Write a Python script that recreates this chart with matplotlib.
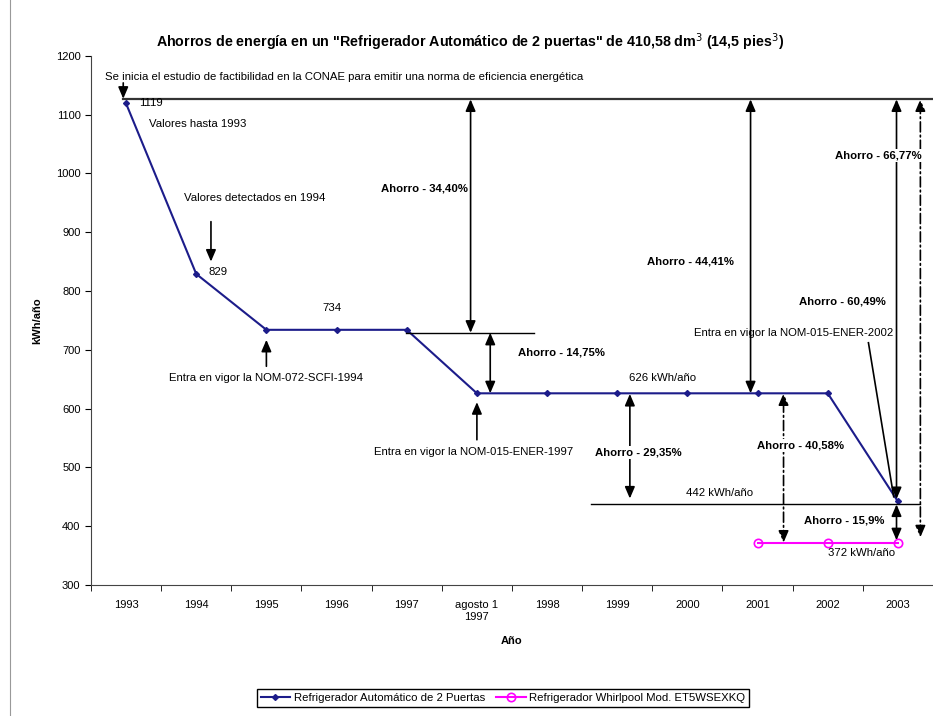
import matplotlib
matplotlib.use('Agg')
import numpy as np
import matplotlib.pyplot as plt
from matplotlib.lines import Line2D

plt.rcParams['font.family'] = ['Liberation Sans', 'DejaVu Sans']

years = ['1993', '1994', '1995', '1996', '1997', 'agosto 1\n1997', '1998',
         '1999', '2000', '2001', '2002', '2003']
consumo = [1119, 829, 734, 734, 734, 626, 626, 626, 626, 626, 626, 442]
whirlpool = [np.nan] * 9 + [372, 372, 372]

fig = plt.figure(figsize=(9.33, 7.16), dpi=100)
ax = fig.add_axes([0.0975, 0.183, 0.9025, 0.739])

x = np.arange(len(years))
ax.plot(x, consumo, color='#1c1c8a', lw=1.5, marker='D', ms=3,
        label='Refrigerador Automático de 2 Puertas')
ax.plot(x, whirlpool, color='#ff00ff', lw=1.5, marker='o', ms=6, mfc='none',
        mew=1.2, label='Refrigerador Whirlpool Mod. ET5WSEXKQ')

ax.set_xlim(-0.5, 11.5)
ax.set_ylim(300, 1200)
ax.set_yticks(range(300, 1201, 100))
ax.set_xticks(x)
ax.set_xticklabels(years, fontsize=8)
ax.set_xticks(np.arange(-0.5, 12, 1), minor=True)
ax.tick_params(axis='x', which='major', length=0, pad=11)
ax.tick_params(axis='x', which='minor', length=4, direction='out')
ax.tick_params(axis='y', labelsize=8, length=4, direction='out')
for s in ['top', 'right']:
    ax.spines[s].set_visible(False)
ax.spines['left'].set_color('#444444')
ax.spines['bottom'].set_color('#444444')
ax.set_xlabel('Año', fontsize=8, fontweight='bold', labelpad=10)
ax.set_ylabel('kWh/año', fontsize=8, fontweight='bold')
ax.yaxis.set_label_coords(-0.058, 0.5)

fig.text(0.504, 0.941,
         'Ahorros de energía en un "Refrigerador Automático de 2 puertas" de 410,58 dm$^3$ (14,5 pies$^3$)',
         ha='center', va='center', fontsize=10.3, fontweight='bold')

# reference lines
ax.plot([-0.04, 11.5], [1126, 1126], color='#333333', lw=1.6, clip_on=False)
ax.plot([3.99, 5.81], [729, 729], color='black', lw=1)
ax.plot([6.62, 11.32], [438, 438], color='black', lw=1)

dashdot = (0, (6, 2, 1, 2))


def arrow(x0, y0, x1, y1, style='-|>', ls='-'):
    ax.annotate('', xy=(x1, y1), xytext=(x0, y0),
                arrowprops=dict(arrowstyle=style + ',head_length=0.7,head_width=0.3',
                                color='black', lw=1.2, ls=ls, shrinkA=0, shrinkB=0,
                                mutation_scale=10))


def note(xp, yp, s, bold=False, box=False):
    kw = dict(ha='left', va='center', fontsize=8.2)
    if bold:
        kw['fontweight'] = 'bold'
    if box:
        kw['bbox'] = dict(facecolor='white', edgecolor='none', pad=1)
    ax.text(xp, yp, s, zorder=5, **kw)


note(-0.3, 1164, 'Se inicia el estudio de factibilidad en la CONAE para emitir una norma de eficiencia energética')
arrow(-0.04, 1154, -0.04, 1127)
note(0.18, 1120, '1119')
note(0.33, 1084, 'Valores hasta 1993')
note(0.83, 958, 'Valores detectados en 1994')
arrow(1.21, 918, 1.21, 850)
note(1.17, 832, '829')
note(2.8, 771, '734')
arrow(2.0, 672, 2.0, 717)
note(0.61, 652, 'Entra en vigor la NOM-072-SCFI-1994')

arrow(4.91, 729, 4.91, 1126, '<|-|>')
note(3.63, 975, 'Ahorro - 34,40%', bold=True)
arrow(5.19, 626, 5.19, 729, '<|-|>')
note(5.58, 695, 'Ahorro - 14,75%', bold=True)
note(3.53, 526, 'Entra en vigor la NOM-015-ENER-1997')
arrow(5.0, 547, 5.0, 611)
note(7.17, 652, '626 kWh/año')

arrow(7.18, 447, 7.18, 625, '<|-|>')
note(6.68, 525, 'Ahorro - 29,35%', bold=True, box=True)
note(7.98, 457, '442 kWh/año')

arrow(8.9, 626, 8.9, 1126, '<|-|>')
note(7.42, 851, 'Ahorro - 44,41%', bold=True)
arrow(9.37, 372, 9.37, 626, '<|-|>', dashdot)
note(8.99, 537, 'Ahorro - 40,58%', bold=True, box=True)

note(9.59, 783, 'Ahorro - 60,49%', bold=True)
note(8.09, 729, 'Entra en vigor la NOM-015-ENER-2002')
ax.plot([10.58, 10.94], [712, 450], color='black', lw=1.2)
arrow(10.98, 446, 10.98, 1126, '<|-|>')
arrow(11.32, 381, 11.32, 1126, '<|-|>', dashdot)
note(10.11, 1031, 'Ahorro - 66,77%', bold=True, box=True)
arrow(10.98, 376, 10.98, 437, '<|-|>')
note(9.66, 409, 'Ahorro - 15,9%', bold=True, box=True)
note(10.01, 354, '372 kWh/año')

fig.legend(loc='center', bbox_to_anchor=(0.539, 0.025), ncol=2, fontsize=8.2,
           frameon=True, fancybox=False, edgecolor='black', framealpha=1,
           borderpad=0.35, handlelength=2.6, columnspacing=1.0, handletextpad=0.3)

fig.add_artist(Line2D([0.011, 0.011], [0, 1], color='#999999', lw=0.8,
                      transform=fig.transFigure))

fig.savefig('out.png', dpi=100)
